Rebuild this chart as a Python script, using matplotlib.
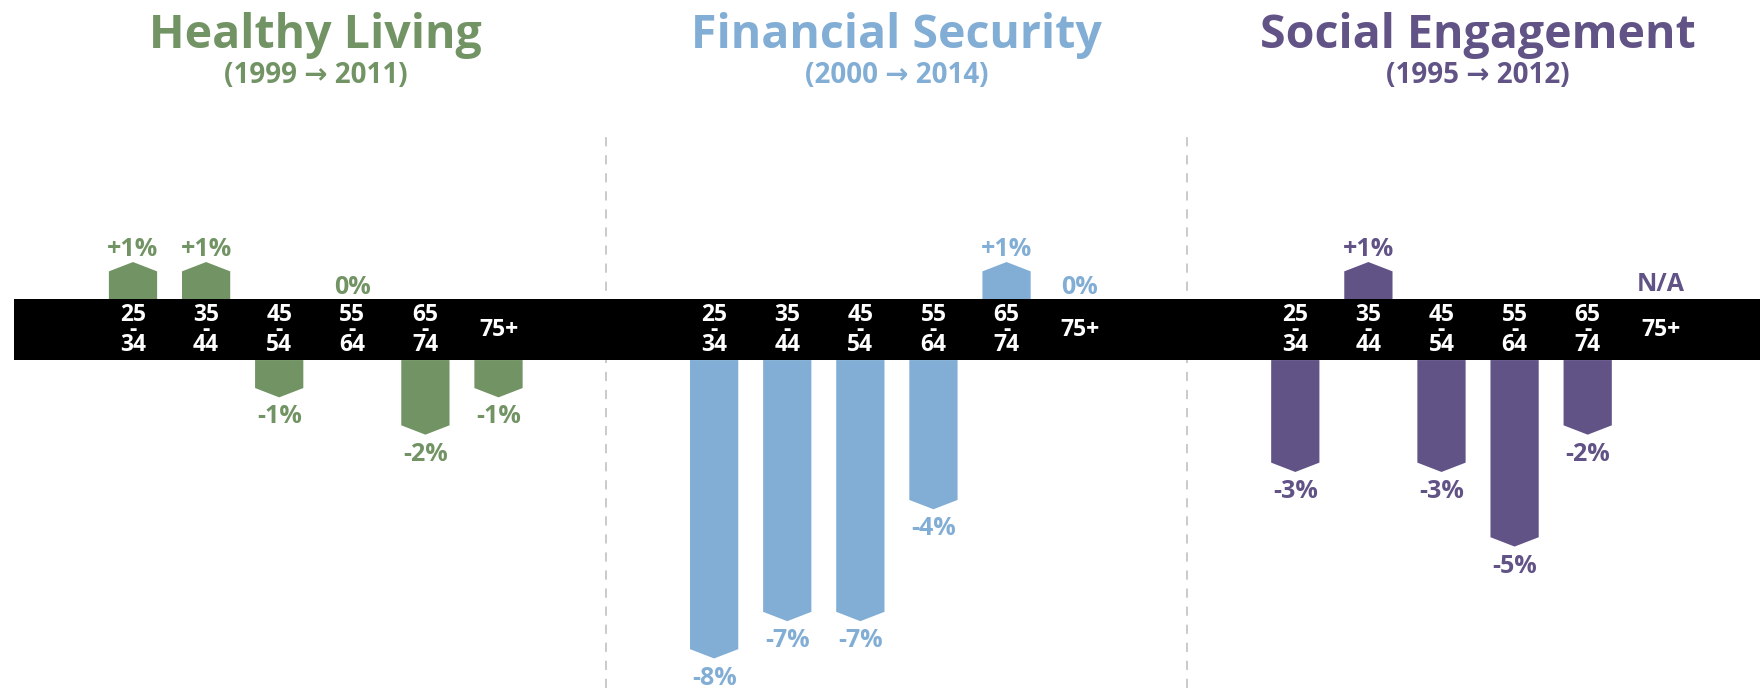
import matplotlib
matplotlib.use("Agg")
import matplotlib.pyplot as plt
from matplotlib.patches import Polygon

plt.rcParams['font.family'] = ['Open Sans', 'DejaVu Sans']

# change in share by age band, one list per domain (None = no data)
groups = ["Healthy Living", "Financial Security", "Social Engagement"]
periods = ["(1999 → 2011)", "(2000 → 2014)", "(1995 → 2012)"]
ages = ["25-34", "35-44", "45-54", "55-64", "65-74", "75+"]
healthy = [1, 1, -1, 0, -2, -1]
financial = [-8, -7, -7, -4, 1, 0]
social = [-3, 1, -3, -5, -2, None]
colors = ["#729465", "#82aed5", "#625387"]

GROUP_STEP = 7.95   # distance between first columns of neighbouring groups
BAND = 0.814        # half height of the black age strip
BAR_W = 0.66
TIP = 0.25          # height of the pointed end
PX_X, PX_Y = 73.1, 37.3

fig = plt.figure(figsize=(17.6, 6.88), dpi=100)
ax = fig.add_axes([0, 0, 1, 1])
ax.set_xlim(-133 / PX_X, (1760 - 133) / PX_X)
ax.set_ylim(-(688 - 329.7) / PX_Y, 329.7 / PX_Y)
ax.axis('off')

ax.axhspan(-BAND, BAND, xmin=14 / 1760, xmax=1, color='black', lw=0, zorder=3)

for g, (name, period, vals, col) in enumerate(zip(groups, periods, [healthy, financial, social], colors)):
    x0 = g * GROUP_STEP
    ax.text(x0 + 2.5, 7.54, name, ha='center', va='baseline', fontsize=33.5,
            fontweight='bold', color=col)
    ax.text(x0 + 2.5, 6.61, period, ha='center', va='baseline', fontsize=20,
            fontweight='bold', color=col)
    for i, (age, v) in enumerate(zip(ages, vals)):
        x = x0 + i
        # age label inside the strip, "25-34" stacked as 25 / - / 34
        ax.text(x, 0.0, age.replace('-', '\n-\n'), ha='center', va='center',
                ma='center', color='white', fontsize=16.5, fontweight='bold',
                linespacing=0.5, zorder=4)

        if v is None:
            ax.text(x, BAND + 0.22, 'N/A', ha='center', va='baseline',
                    color=col, fontsize=18, fontweight='bold')
            continue
        if v != 0:
            s = 1 if v > 0 else -1
            base = s * BAND
            tip = s * (BAND + abs(v))
            shoulder = tip - s * TIP
            pts = [(x - BAR_W / 2, base), (x - BAR_W / 2, shoulder), (x, tip),
                   (x + BAR_W / 2, shoulder), (x + BAR_W / 2, base)]
            ax.add_patch(Polygon(pts, closed=True, facecolor=col, lw=0, zorder=2))
            txt = f"{v:+d}%"
        else:
            s, tip = 1, BAND
            txt = "0%"
        if s > 0:
            ax.text(x, tip + 0.15, txt, ha='center', va='baseline', color=col,
                    fontsize=18, fontweight='bold')
        else:
            ax.text(x, tip - 0.19, txt, ha='center', va='top', color=col,
                    fontsize=18, fontweight='bold')

# dashed separators between the groups
for g in (1, 2):
    xs = g * GROUP_STEP - (GROUP_STEP - 5) / 2
    ax.vlines(xs, ax.get_ylim()[0], 5.25, colors='#c4c4c4', lw=1.25,
              linestyles=(0, (5.3, 5.1)), zorder=1)

fig.savefig("out.png", dpi=100)
